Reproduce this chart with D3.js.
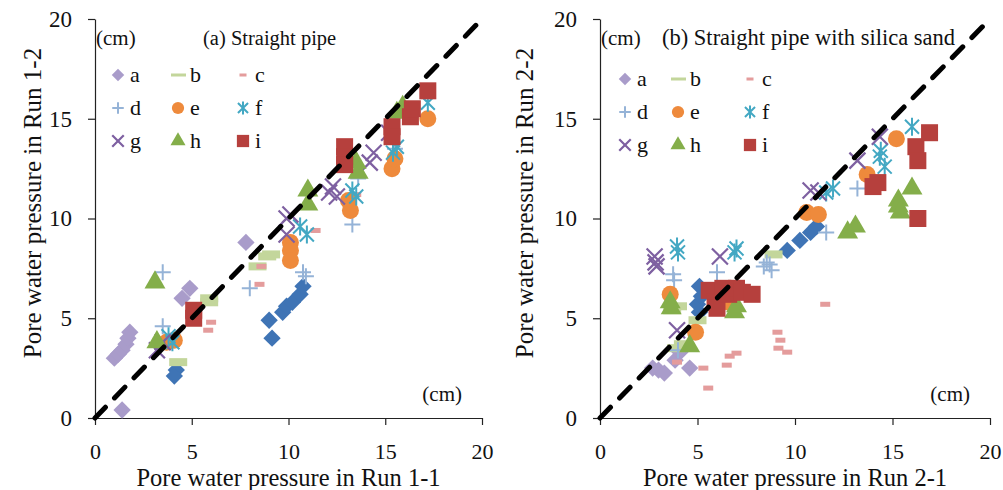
<html>
<head>
<script src="https://d3js.org/d3.v7.min.js"></script>
<style>
body { margin: 0; background: white; }
text { font-family: "Liberation Serif", "Times New Roman", serif; fill: #111; }
</style>
</head>
<body>
<svg id="chart" width="1003" height="490"></svg>
<script>
// tick values shared by both panels
var ticks = [0, 5, 10, 15, 20];
var seriesNames = ["a", "b", "c", "d", "e", "f", "g", "h", "i"];

// panel (a) Straight pipe : [Run 1-1, Run 1-2]
var a1 = [[1.0,3.0],[1.2,3.2],[1.4,3.4],[1.6,3.7],[1.7,4.0],[1.8,4.3],[1.4,0.4],[4.5,6.0],[4.9,6.5],[7.8,8.8]];
var b1 = [[4.3,2.8],[5.9,5.8],[5.9,6.0],[8.4,7.6],[8.9,8.1],[9.1,8.2]];
var c1 = [[6.0,4.8],[5.85,4.4],[8.6,7.6],[8.5,6.7],[11.4,9.4],[13.5,11.2]];
var d1 = [[3.5,7.3],[3.5,4.6],[8.0,6.5],[10.75,7.3],[10.9,7.1],[13.3,9.7],[13.6,12.0],[15.5,13.5]];
var e1 = [[3.7,3.8],[4.1,3.9],[10.1,8.8],[10.1,8.4],[10.1,7.9],[13.1,10.9],[13.2,10.4],[15.35,12.5],[15.5,13.0],[17.2,15.0]];
var f1 = [[4.0,3.8],[3.8,4.1],[10.6,9.6],[10.95,9.2],[13.3,11.4],[13.5,11.1],[15.4,13.3],[15.6,13.6],[17.2,15.8]];
var g1 = [[3.2,3.4],[3.5,3.8],[9.9,10.0],[9.9,9.2],[10.1,10.2],[12.1,11.3],[12.3,11.6],[12.5,11.1],[14.2,12.8],[14.4,13.3],[15.2,14.3]];
var h1 = [[3.1,6.8],[3.2,3.8],[11.0,11.4],[11.0,10.7],[13.5,12.8],[13.6,12.3],[15.6,15.3],[15.9,15.6]];
var i1 = [[5.1,5.0],[5.1,5.4],[12.9,13.6],[12.9,13.1],[12.9,12.7],[15.35,14.6],[15.35,14.1],[16.3,15.1],[16.4,15.5],[17.2,16.4]];
var j1 = [[4.2,2.4],[4.1,2.1],[9.0,4.9],[9.15,4.0],[9.7,5.3],[9.9,5.6],[10.2,5.8],[10.6,6.2],[10.75,6.6]];

// panel (b) Straight pipe with silica sand : [Run 2-1, Run 2-2]
var a2 = [[2.7,2.5],[3.0,2.4],[3.3,2.25],[3.85,2.9],[4.1,3.3],[4.6,2.5]];
var b2 = [[3.7,5.4],[4.0,5.6],[4.25,3.7],[3.9,3.5],[8.9,8.2],[5.0,4.9]];
var c2 = [[3.95,2.8],[5.3,2.5],[5.55,1.5],[6.5,2.65],[6.65,3.1],[7.0,3.25],[9.1,4.3],[9.25,3.9],[9.15,3.5],[9.6,3.3],[11.55,5.7]];
var d2 = [[3.75,7.2],[3.8,6.9],[6.0,7.3],[8.4,7.6],[8.55,7.8],[8.8,7.4],[8.7,7.7],[11.6,9.3],[13.2,11.5],[4.0,3.4]];
var e2 = [[3.6,6.2],[4.9,4.3],[6.6,5.8],[10.6,10.3],[11.2,10.2],[13.7,12.2],[15.2,14.0]];
var f2 = [[3.95,8.6],[4.0,8.3],[6.9,8.3],[7.0,8.5],[11.6,11.3],[11.95,11.5],[14.35,13.1],[14.4,13.4],[14.6,12.6],[16.0,14.6]];
var g2 = [[2.8,8.1],[2.9,7.6],[2.85,7.8],[3.95,4.4],[6.15,8.1],[10.8,11.4],[11.2,11.3],[13.2,12.9],[14.35,14.1]];
var h2 = [[3.6,5.8],[3.65,5.5],[4.6,3.6],[6.9,5.3],[7.0,5.6],[12.7,9.3],[13.1,9.6],[15.3,10.9],[15.3,10.6],[15.4,10.3],[16.0,11.5]];
var i2 = [[5.6,6.4],[5.9,5.8],[6.0,5.5],[6.3,6.5],[6.6,6.2],[7.0,6.5],[7.3,6.3],[7.8,6.2],[14.0,11.6],[14.25,11.8],[16.2,13.6],[16.3,12.9],[16.9,14.3],[16.3,10.0]];
var j2 = [[5.0,5.7],[5.1,5.3],[5.1,6.6],[5.2,6.1],[9.6,8.4],[10.25,8.9],[10.8,9.3],[11.1,9.6]];

var colors = {a:"#A99CCA", b:"#C3D69B", c:"#E49C9C", d:"#95B3D7", e:"#EE8A3C",
              f:"#43A8C3", g:"#7E60A1", h:"#84AE4A", i:"#B6403D", j:"#3F74B5"};

var svg = d3.select("#chart");

// draw one marker of a given kind at 0,0 inside group g, k = scale
function marker(g, kind, k) {
  var c = colors[kind];
  if (kind == "a" || kind == "j") {
    g.append("path").attr("d", d3.symbol(d3.symbolSquare, 150 * k * k)()).attr("transform", "rotate(45)").attr("fill", c);
  } else if (kind == "b") {
    g.append("rect").attr("x", -9 * k).attr("y", -4 * k).attr("width", 18 * k).attr("height", 8 * k).attr("fill", c);
  } else if (kind == "c") {
    g.append("rect").attr("x", -5 * k).attr("y", -2.5 * k).attr("width", 10 * k).attr("height", 5 * k).attr("fill", c);
  } else if (kind == "d") {
    g.append("path").attr("d", "M-8,0H8M0,-8V8").attr("transform", "scale(" + k + ")")
      .attr("stroke", c).attr("stroke-width", 2 / k).attr("fill", "none");
  } else if (kind == "e") {
    g.append("circle").attr("r", 8.5 * k).attr("fill", c);
  } else if (kind == "f") {
    g.append("path").attr("d", "M-7,-7L7,7M-7,7L7,-7M0,-9V9").attr("transform", "scale(" + k + ")")
      .attr("stroke", c).attr("stroke-width", 2 / k).attr("fill", "none");
  } else if (kind == "g") {
    g.append("path").attr("d", "M-8,-8L8,8M-8,8L8,-8").attr("transform", "scale(" + k + ")")
      .attr("stroke", c).attr("stroke-width", 2.2 / k).attr("fill", "none");
  } else if (kind == "h") {
    g.append("path").attr("d", d3.symbol(d3.symbolTriangle, 190 * k * k)()).attr("fill", c);
  } else if (kind == "i") {
    g.append("rect").attr("x", -8.5 * k).attr("y", -8.5 * k).attr("width", 17 * k).attr("height", 17 * k).attr("fill", c);
  }
}

function panel(opt) {
  var x = d3.scaleLinear().domain([0, 20]).range([opt.left, opt.right]);
  var y = d3.scaleLinear().domain([0, 20]).range([418, 19]);
  var g = svg.append("g");

  // axes
  g.append("g").attr("transform", "translate(0,418)")
    .call(d3.axisBottom(x).tickValues(ticks).tickSize(7).tickSizeOuter(0).tickPadding(18))
    .call(function(s) {
      s.selectAll("line,path").attr("stroke", "#222").attr("stroke-width", 1.2);
      s.selectAll("text").style("font-size", "22px").style("font-family", "Liberation Serif").attr("fill", "#111");
    });
  g.append("g").attr("transform", "translate(" + opt.left + ",0)")
    .call(d3.axisLeft(y).tickValues(ticks).tickSize(7).tickSizeOuter(0).tickPadding(16))
    .call(function(s) {
      s.selectAll("line,path").attr("stroke", "#222").attr("stroke-width", 1.2);
      s.selectAll("text").style("font-size", "23px").style("font-family", "Liberation Serif").attr("fill", "#111");
    });

  // markers
  var order = ["j", "a", "b", "c", "d", "e", "f", "g", "h", "i"];
  order.forEach(function(k) {
    g.selectAll(null).data(opt.data[k]).enter().append("g")
      .attr("transform", function(d) { return "translate(" + x(d[0]) + "," + y(d[1]) + ")"; })
      .each(function() { marker(d3.select(this), k, 1); });
  });

  // 1:1 line
  g.append("line")
    .attr("x1", x(0)).attr("y1", y(0)).attr("x2", x(20)).attr("y2", y(20))
    .attr("stroke", "black").attr("stroke-width", 5)
    .attr("stroke-dasharray", "15 13").attr("stroke-linecap", "round");

  // texts
  g.append("text").attr("x", opt.left + 1).attr("y", 45).style("font-size", "21px").text("(cm)");
  g.append("text").attr("x", opt.titleX).attr("y", 45).style("font-size", opt.titleSize).text(opt.title);
  g.append("text").attr("x", x(20) - 20).attr("y", 401).attr("text-anchor", "end").style("font-size", "21px").text("(cm)");
  g.append("text").attr("x", (opt.left + opt.right) / 2).attr("y", 486).attr("text-anchor", "middle")
    .style("font-size", "24.5px").text(opt.xLabel);
  g.append("text").attr("transform", "translate(" + opt.yLabX + ",203) rotate(-90)")
    .attr("text-anchor", "middle").attr("dy", "0.35em").style("font-size", "25px").text(opt.yLabel);

  // legend
  seriesNames.forEach(function(k, idx) {
    var col = idx % 3, row = Math.floor(idx / 3);
    var lx = opt.left + opt.legX[col], ly = opt.legY + row * 33;
    var lg = g.append("g").attr("transform", "translate(" + lx + "," + ly + ")");
    var mg = lg.append("g");
    if (k == "b") {
      mg.append("rect").attr("x", -7).attr("y", -1.5).attr("width", 15).attr("height", 3).attr("fill", colors.b);
    } else if (k == "c") {
      mg.append("rect").attr("x", -3.5).attr("y", -1.5).attr("width", 7).attr("height", 3).attr("fill", colors.c);
    } else {
      marker(mg, k, 0.72);
    }
    lg.append("text").attr("x", 12).attr("y", 7).style("font-size", "22px").text(k);
  });
}

panel({
  left: 95, right: 482, title: "(a) Straight pipe", titleX: 203, titleSize: "20.5px", yLabX: 32,
  xLabel: "Pore water pressure in Run 1-1", yLabel: "Pore water pressure in Run 1-2",
  legX: [23, 83, 148], legY: 75,
  data: {a:a1, b:b1, c:c1, d:d1, e:e1, f:f1, g:g1, h:h1, i:i1, j:j1}
});
panel({
  left: 600, right: 990, title: "(b) Straight pipe with silica sand", titleX: 662, titleSize: "22.5px", yLabX: 524,
  xLabel: "Pore water pressure in Run 2-1", yLabel: "Pore water pressure in Run 2-2",
  legX: [25, 78, 150], legY: 79,
  data: {a:a2, b:b2, c:c2, d:d2, e:e2, f:f2, g:g2, h:h2, i:i2, j:j2}
});
</script>
</body>
</html>
